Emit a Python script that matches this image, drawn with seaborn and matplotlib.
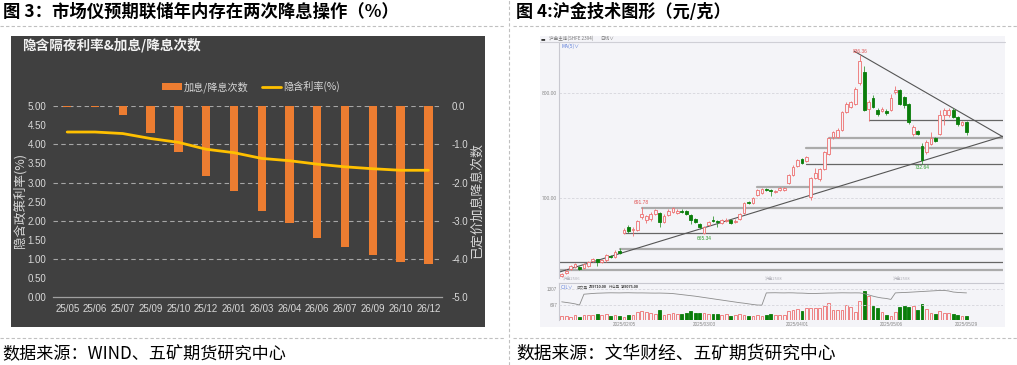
import numpy as np
import pandas as pd
import matplotlib
matplotlib.use("Agg")
import matplotlib.pyplot as plt
import seaborn as sns
from matplotlib.patches import Rectangle, Patch
from matplotlib.lines import Line2D

# ---------------- data: left chart ----------------
cats = ['25/05', '25/06', '25/07', '25/09', '25/10', '25/12', '26/01',
        '26/03', '26/04', '26/06', '26/07', '26/09', '26/10', '26/12']
hikes_cuts = [-0.02, -0.03, -0.24, -0.70, -1.19, -1.82, -2.21,
              -2.74, -3.05, -3.45, -3.68, -3.90, -4.07, -4.13]
implied_rate = [4.32, 4.32, 4.28, 4.15, 4.05, 3.87, 3.78,
                3.63, 3.57, 3.48, 3.41, 3.36, 3.32, 3.32]
left_ticks = [0, 0.5, 1, 1.5, 2, 2.5, 3, 3.5, 4, 4.5, 5]
right_ticks = [0, -1, -2, -3, -4, -5]

# ---------------- data: right chart (SHFE gold daily) ----------------
opens = [626, 629, 632, 634.5, 634, 633, 635.5, 640, 641.5, 639.5,
         640.5, 644.5, 644, 649.5, 667, 672, 669.5, 670, 682, 679,
         680, 685, 686, 677, 684, 687, 686, 688, 688, 684,
         680.5, 675, 667, 674, 678.5, 678.5, 676, 678, 679, 677.5,
         680, 686, 696, 695.5, 703, 705, 709, 707.5, 705.5, 707.5,
         708, 714, 722, 730.5, 737, 735.5, 701, 719, 718, 728,
         742.5, 758, 758, 765, 782, 787, 790, 810, 820, 785,
         795, 784.5, 783.5, 783.5, 784, 801, 803, 796.5, 790, 761.5,
         764, 749.5, 744, 752, 757, 761.5, 779, 779, 784.5, 777.5,
         769.5, 772.5]
closes = [628, 630.5, 635, 637, 632, 637, 639, 641.5, 639.5, 640.5,
          645.5, 643.5, 649, 648, 670, 668.5, 670.5, 678, 685, 683,
          685, 688.5, 677, 683, 688, 690.5, 688, 686.5, 685, 679,
          677.5, 672, 672, 677, 678, 677.5, 679, 679.5, 676, 678.5,
          685, 695, 695, 700, 707.5, 708.5, 707.5, 707, 707, 710,
          710, 722, 730, 736, 733.5, 739, 719, 724, 728, 744,
          757, 763, 765, 782, 790, 792, 804.5, 831, 784, 792,
          787, 780, 785, 781, 795, 803, 790, 788.5, 772.5, 768,
          761.5, 736, 753.5, 757, 754.5, 779, 784, 784, 777.5, 771,
          772.5, 763]
highs = [629, 632, 636, 638.5, 635, 638, 640, 643, 642, 642,
         647, 646, 650.5, 652, 671.5, 674, 672, 679.5, 691.78, 684,
         686.5, 690, 687, 684.5, 689.5, 691.5, 689.5, 689.5, 689, 685,
         681.5, 676, 673, 678.5, 683, 679.5, 680, 681, 680, 680,
         686, 696.5, 697, 701, 709, 709.5, 710, 708.5, 708, 711,
         711, 723, 731.5, 737.5, 738, 740.5, 720, 728.5, 729, 745,
         758.5, 764, 767, 783.5, 791.5, 793, 806, 836.36, 826, 793.5,
         798, 786, 787, 785, 799, 806.5, 804, 797.5, 791, 769.5,
         765, 753, 755, 763, 758, 784.5, 786, 785.5, 786, 778.5,
         774, 773.5]
lows = [625, 628, 631, 633.5, 631, 632, 634.5, 639, 635, 638.5,
        639.5, 642.5, 643, 647, 665.5, 667, 664, 669, 680, 676,
        678, 684, 672, 676, 683, 686, 685, 685.5, 684, 675,
        676, 670.5, 665.34, 673, 677, 672, 675, 677, 675, 676.5,
        679, 685, 694, 694.5, 702, 704, 706.5, 702, 704.5, 706.5,
        707, 713, 721, 729.5, 732.5, 734.5, 698, 718, 716, 727,
        741, 756, 757, 764, 781, 786, 789, 808, 783, 774,
        786, 778.5, 782, 779.5, 783, 799, 788.5, 786, 771, 759,
        760.5, 732.64, 742, 751, 753.5, 760.5, 770, 777.5, 776, 769,
        768.5, 760]
volume = [12, 12, 10, 14, 8, 14, 15, 15, 18, 14,
          18, 12, 16, 12, 10, 14, 14, 24, 26, 24,
          22, 18, 30, 15, 18, 20, 18, 18, 22, 28,
          22, 22, 22, 18, 18, 18, 16, 18, 12, 14,
          18, 16, 12, 12, 14, 12, 14, 18, 14, 14,
          16, 26, 30, 32, 28, 35, 35, 35, 35, 42,
          50, 30, 30, 30, 45, 40, 25, 57, 88, 72,
          42, 35, 25, 15, 13, 25, 38, 42, 40, 42,
          30, 48, 32, 22, 17, 26, 20, 20, 18, 15,
          13, 13]
open_interest = [823, 800, 775, 745, 700,
                 1116, 1130, 1145, 1155, 1160, 1166, 1170, 1168, 1166, 1170,
                 1172, 1168, 1165, 1166, 1163, 1160, 1158, 1160, 1155,
                 1150, 1140, 1120, 1100, 1080, 1060, 1040, 1015, 990, 965,
                 940, 914, 890, 865, 840, 815, 790, 770, 745, 720, 700,
                 697,
                 1166, 1170, 1172, 1168, 1166, 1170, 1168,
                 1160, 1158, 1150, 1140, 1145, 1150, 1155, 1160, 1162, 1166,
                 1170, 1168, 1166, 1168, 1166, 1140, 1090,
                 1040, 1000, 970, 952, 915,
                 1166, 1175, 1182, 1190, 1200, 1210, 1220, 1230, 1240, 1250,
                 1260, 1260, 1240, 1200, 1185, 1175, 1166]
date_ticks = [14, 32, 53, 74, 91]
date_labels = ['2025/02/05', '2025/03/03', '2025/04/01', '2025/05/06', '2025/05/29']
price_ticks = [700, 800]
oi_ticks = [697, 1307]
sr_price = [774.3, 757.4, 747.9, 732.1, 710.8, 690.8, 666.4, 651.4, 638.8, 631.0]
sr_start = [69, 60, 55, 55, 44, 18, 14, 13, -1, -1]
sr_kind = ['dark', 'gray', 'gray', 'dark', 'gray', 'gray', 'dark', 'gray', 'dark', 'gray']
trend_up = ([-0.5, 99.2], [629.5, 759.0])
trend_down = ([65.8, 99.2], [840.0, 758.4])

# ---------------- figure ----------------
W, H = 1017, 365
sns.set_style("white")
plt.rcParams['font.family'] = ['Liberation Sans', 'Noto Sans CJK SC', 'DejaVu Sans']
plt.rcParams['axes.unicode_minus'] = False
CJK = ['Noto Sans CJK SC', 'DejaVu Sans']

fig = plt.figure(figsize=(W / 100, H / 100), dpi=100)
fig.patch.set_facecolor('white')


def fx(x):
    return x / W


def fy(y):
    return 1 - y / H


def box(x0, y0, x1, y1):
    return [x0 / W, 1 - y1 / H, (x1 - x0) / W, (y1 - y0) / H]


# headers, separators, sources
fig.text(fx(3), fy(12), '图 3：市场仪预期联储年内存在两次降息操作（%）', fontsize=12.5,
         fontweight='bold', family=CJK, va='center', ha='left', color='black')
fig.text(fx(516), fy(12), '图 4:沪金技术图形（元/克）', fontsize=12.3,
         fontweight='bold', family=CJK, va='center', ha='left', color='black')
fig.text(fx(2), fy(353), '数据来源：WIND、五矿期货研究中心', fontsize=12.3,
         family=CJK, va='center', ha='left', color='black')
fig.text(fx(516), fy(353), '数据来源：文华财经、五矿期货研究中心', fontsize=12.8,
         family=CJK, va='center', ha='left', color='black')
dash = dict(ls=(0, (3, 2)), color='#c0c0c0', lw=0.8, transform=fig.transFigure)
fig.add_artist(Line2D([0, fx(505)], [fy(26), fy(26)], **dash))
fig.add_artist(Line2D([fx(513), 1], [fy(26), fy(26)], **dash))
fig.add_artist(Line2D([0, fx(505)], [fy(338), fy(338)], **dash))
fig.add_artist(Line2D([fx(513), 1], [fy(338), fy(338)], **dash))
fig.add_artist(Line2D([fx(509), fx(509)], [0, 1], **dash))

# ---------------- left chart ----------------
fig.add_artist(Rectangle((fx(11), fy(327)), fx(474), 291 / H, transform=fig.transFigure,
                         facecolor='#404040', edgecolor='none', zorder=-1))
fig.text(fx(22), fy(45.5), '隐含隔夜利率&加息/降息次数', fontsize=9.8, fontweight='bold',
         family=CJK, color='#f2f2f2', va='center', ha='left')

ax = fig.add_axes(box(53.3, 106, 442.3, 297.3))
ax.patch.set_alpha(0)
df = pd.DataFrame({'cat': cats, 'cut': hikes_cuts})
sns.barplot(data=df, x='cat', y='cut', ax=ax, color='#ed7d31', saturation=1,
            width=0.3, linewidth=0, edgecolor='none', zorder=3)
ax.set_ylim(-5, 0)
ax.set_xlim(-0.5, len(cats) - 0.5)
ax.set_xlabel('')
ax.set_ylabel('')
for yv in right_ticks[:-1]:
    ax.axhline(yv, color='#a6a6a6', lw=0.8, ls=(0, (4, 3)), zorder=1)
for s in ['top', 'left', 'right']:
    ax.spines[s].set_visible(False)
ax.spines['bottom'].set_color('#a0a0a0')
ax.spines['bottom'].set_linewidth(0.9)
ax.tick_params(axis='x', which='major', length=0, labelsize=7, labelcolor='#d9d9d9', pad=5)
ax.set_xticks(np.arange(-0.5, len(cats), 1), minor=True)
ax.tick_params(axis='x', which='minor', direction='in', length=3, color='#a0a0a0')

ax2 = ax.twinx()
sns.lineplot(x=np.arange(len(cats)), y=implied_rate, ax=ax2, color='#ffc000', lw=2.0)
ax2.set_ylim(0, 5)
ax2.set_ylabel('')
for s in ax2.spines.values():
    s.set_visible(False)

# right axis (bars) ticks on the right, left axis (rate) ticks on the left
ax.yaxis.set_ticks_position('right')
ax.set_yticks(right_ticks)
ax.set_yticklabels([f'{v:.1f}' for v in right_ticks])
ax.tick_params(axis='y', length=0, labelsize=7, labelcolor='#d9d9d9', pad=7,
               labelleft=False, labelright=True)
ax2.yaxis.set_ticks_position('left')
ax2.set_yticks(left_ticks)
ax2.set_yticklabels([f'{v:.2f}' for v in left_ticks])
ax2.tick_params(axis='y', length=0, labelsize=7, labelcolor='#d9d9d9', pad=5,
                labelleft=True, labelright=False)

fig.text(fx(20), fy(200), '隐含政策利率(%)', rotation=90, fontsize=9.0, family=CJK,
         color='#d9d9d9', va='center', ha='center')
fig.text(fx(477), fy(200), '已定价加息降息次数', rotation=90, fontsize=9.3, family=CJK,
         color='#d9d9d9', va='center', ha='center')

handles = [Patch(facecolor='#ed7d31', edgecolor='none'),
           Line2D([0], [0], color='#ffc000', lw=2)]
leg = fig.legend(handles, ['加息/降息次数', '隐含利率(%)'], loc='center',
                 bbox_to_anchor=(fx(251), fy(87)), ncol=2, frameon=False,
                 labelcolor='#d9d9d9', handlelength=1.9, handleheight=0.7,
                 handletextpad=0.2, columnspacing=1.3, prop={'family': CJK, 'size': 7.3})

# ---------------- right chart ----------------
BG = '#f4f4f8'
fig.add_artist(Rectangle((fx(540), fy(327)), fx(465), 291 / H, transform=fig.transFigure,
                         facecolor=BG, edgecolor='none', zorder=-1))
fig.add_artist(Line2D([fx(540), fx(1005)], [fy(42.3), fy(42.3)], color='#cfcfd6', lw=0.8,
                      transform=fig.transFigure))
fig.text(fx(541), fy(38.6), '▬', fontsize=3.5, family=CJK, color='#333333', va='center')
fig.text(fx(549), fy(38.6), '沪金主连(SHFE 2394)', fontsize=3.3, family=CJK, color='#777777',
         va='center')
fig.text(fx(600), fy(38.6), '日线∨', fontsize=3.3, family=CJK, color='#777777', va='center')
fig.text(fx(562), fy(45.8), 'MA(5)∨', fontsize=3.5, family=CJK, color='#5a7bd8', va='center')

o = np.array(opens)
c = np.array(closes)
hi = np.array(highs)
lo = np.array(lows)
idx = np.arange(len(o))
up = c >= o
RED = '#ee7070'
GREEN = '#0a7d0a'
xlim = (-0.54, 99.2)

axp = fig.add_axes(box(559.3, 42.3, 1003, 278))
axp.set_facecolor('none')
axp.set_xlim(*xlim)
axp.set_ylim(623.8, 848.6)
for yv in price_ticks:
    axp.axhline(yv, color='#d6d6dc', lw=0.6, ls=(0, (3, 2)), zorder=0)
for p, s, k in zip(sr_price, sr_start, sr_kind):
    if k == 'dark':
        axp.plot([s, xlim[1]], [p, p], color='#666666', lw=0.9, zorder=1)
    else:
        axp.plot([s, xlim[1]], [p, p], color='#ababab', lw=1.6, zorder=1)
sns.lineplot(x=trend_up[0], y=trend_up[1], ax=axp, color='#555555', lw=0.8, zorder=1)
sns.lineplot(x=trend_down[0], y=trend_down[1], ax=axp, color='#555555', lw=0.8, zorder=1)
axp.vlines(idx, lo, hi, colors=np.where(up, RED, '#3a993a'), lw=0.6, zorder=2)
heights = np.maximum(np.abs(c - o), 0.8)
axp.bar(idx, heights, bottom=np.minimum(o, c), width=0.62,
        color=np.where(up, BG, GREEN), edgecolor=np.where(up, RED, GREEN), lw=0.6, zorder=3)
imax = int(np.argmax(hi))
imin = int(np.argmin(lo[60:])) + 60
axp.text(imax, hi[imax] + 1.5, f'{hi[imax]:.2f}', fontsize=3.5, color='#e05050', ha='center', va='bottom')
axp.text(imin, lo[imin] - 1.5, f'{lo[imin]:.2f}', fontsize=3.5, color='#2a9a2a', ha='center', va='top')
i2 = int(np.argmax(hi[:40]))
axp.text(i2, hi[i2] + 1.5, f'{hi[i2]:.2f}', fontsize=3.5, color='#e05050', ha='center', va='bottom')
i3 = int(np.argmin(lo[25:45])) + 25
axp.text(i3, lo[i3] - 1.5, f'{lo[i3]:.2f}', fontsize=3.5, color='#2a9a2a', ha='center', va='top')
axp.set_yticks(price_ticks)
axp.set_yticklabels([f'{v:.2f}' for v in price_ticks])
axp.set_xticks([])
axp.tick_params(axis='y', length=0, labelsize=3.5, labelcolor='#888888', pad=1.5)
for s in ['top', 'right', 'bottom']:
    axp.spines[s].set_visible(False)
axp.spines['left'].set_color('#c8c8d0')
axp.spines['left'].set_linewidth(0.8)

fig.text(fx(563), fy(279.5), '沪金2506', fontsize=3, family=CJK, color='#b0b0b8', va='center')
fig.text(fx(765), fy(279.5), '沪金2508', fontsize=3, family=CJK, color='#b0b0b8', va='center')
fig.text(fx(893), fy(279.5), '沪金2508', fontsize=3, family=CJK, color='#b0b0b8', va='center')

axv = fig.add_axes(box(559.3, 283.3, 1003, 320))
axv.set_facecolor('none')
axv.bar(idx, volume, width=0.62, color=np.where(up, BG, GREEN),
        edgecolor=np.where(up, RED, GREEN), lw=0.6, zorder=3)
axv.set_xlim(*xlim)
axv.set_ylim(0, 111)
axv.set_yticks([])
axv.set_xticks(date_ticks)
axv.set_xticklabels(date_labels)
axv.tick_params(axis='x', length=0, labelsize=3.3, labelcolor='#888888', pad=1.5)
for s in ['right', 'bottom']:
    axv.spines[s].set_visible(False)
for s in ['left', 'top']:
    axv.spines[s].set_color('#c8c8d0')
    axv.spines[s].set_linewidth(0.8)

axo = axv.twinx()
sns.lineplot(x=idx, y=open_interest, ax=axo, color='#8c8c8c', lw=0.6, zorder=4)
axo.set_ylim(125, 1535)
axo.set_xlim(*xlim)
for yv in oi_ticks:
    axo.axhline(yv, color='#d6d6dc', lw=0.6, ls=(0, (3, 2)), zorder=0)
axo.yaxis.set_ticks_position('left')
axo.set_yticks(oi_ticks)
axo.set_yticklabels([str(v) for v in oi_ticks])
axo.tick_params(axis='y', length=0, labelsize=3.3, labelcolor='#888888', pad=1.5,
                labelleft=True, labelright=False)
for s in axo.spines.values():
    s.set_visible(False)
axo.set_ylabel('')

fig.text(fx(561), fy(287), 'CJL∨', fontsize=3.3, family=CJK, color='#5a7bd8', va='center')
fig.text(fx(577), fy(287), '成交量', fontsize=2.7, family=CJK, color='#666666', va='center')
fig.text(fx(589), fy(287), '209710.00', fontsize=2.7, color='#333333',
         fontweight='bold', va='center')
fig.text(fx(609), fy(287), '持仓量', fontsize=2.7, family=CJK, color='#666666', va='center')
fig.text(fx(621), fy(287), '199075.00', fontsize=2.7, color='#333333',
         fontweight='bold', va='center')

fig.savefig('out.png', dpi=100, facecolor='white')
